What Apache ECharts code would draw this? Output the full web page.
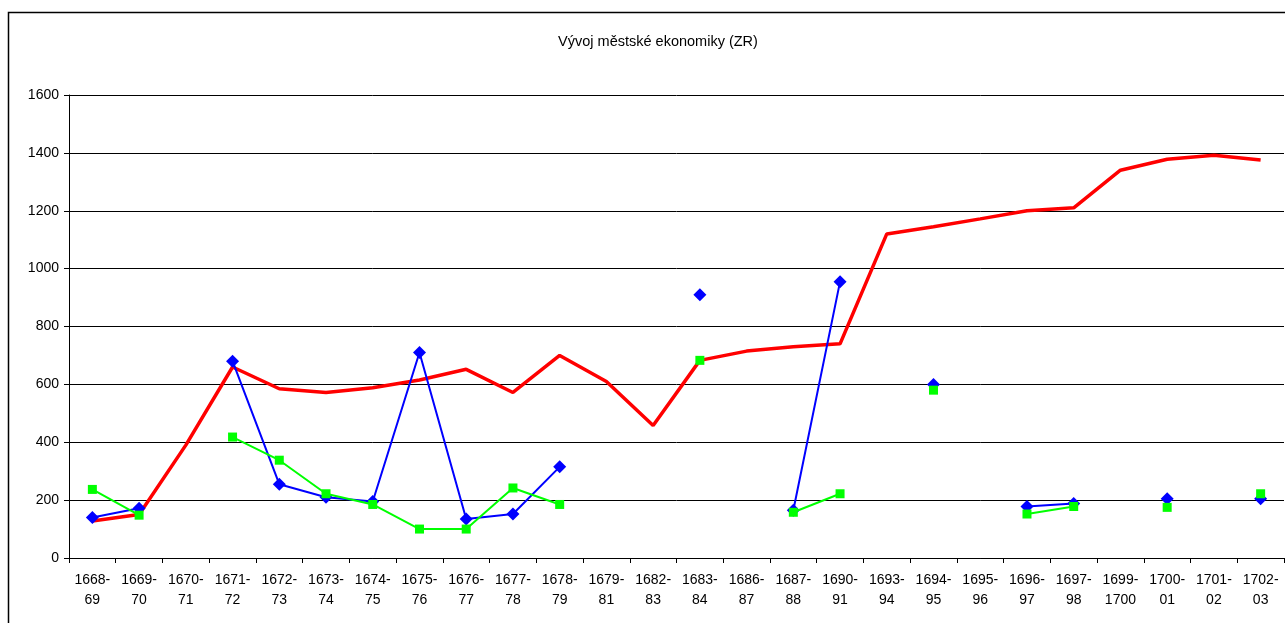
<!DOCTYPE html>
<html>
<head>
<meta charset="utf-8">
<script src="https://cdn.jsdelivr.net/npm/echarts@6/dist/echarts.min.js"></script>
<style>
html,body{margin:0;padding:0;background:#fff;}
#c{width:1285px;height:623px;}
</style>
</head>
<body>
<div id="c"></div>
<script>
const categories = ['1668-69','1669-70','1670-71','1671-72','1672-73','1673-74','1674-75','1675-76','1676-77','1677-78','1678-79','1679-81','1682-83','1683-84','1686-87','1687-88','1690-91','1693-94','1694-95','1695-96','1696-97','1697-98','1699-1700','1700-01','1701-02','1702-03'];
const redValues = [128,150,390,660,585,572,588,615,652,572,700,610,458,683,715,730,740,1120,1145,1172,1200,1210,1340,1378,1392,1375];
const blueValues = [140,172,null,680,255,210,195,710,135,152,315,null,null,910,null,165,955,null,600,null,178,188,null,205,null,205];
const greenValues = [237,148,null,418,338,222,185,100,100,242,185,null,null,683,null,158,222,null,580,null,152,178,null,175,null,222];
const yTicks = {min:0, max:1600, interval:200};
const titleText = 'Vývoj městské ekonomiky (ZR)';

const chart = echarts.init(document.getElementById('c'));
const font = 'Liberation Sans, Arial, sans-serif';
chart.setOption({
  animation:false,
  backgroundColor:'#fff',
  title:{text:titleText,left:653,top:29,textAlign:'center',
    textStyle:{fontFamily:font,fontSize:14.5,fontWeight:'normal',color:'#000'}},
  graphic:[{type:'rect',shape:{x:8.5,y:12.5,width:1290,height:620},style:{fill:null,stroke:'#000',lineWidth:1.5},silent:true}],
  grid:{left:69,right:1,top:95,bottom:65},
  xAxis:{type:'category',data:categories,boundaryGap:true,
    axisLine:{lineStyle:{color:'#000',width:1}},
    axisTick:{show:true,alignWithLabel:false,length:5,lineStyle:{color:'#000'}},
    axisLabel:{interval:0,fontFamily:font,fontSize:14,color:'#000',lineHeight:20,margin:12,
      formatter:v=>{const i=v.indexOf('-');return v.slice(0,i+1)+'\n'+v.slice(i+1);}},
    splitLine:{show:false}},
  yAxis:{type:'value',min:yTicks.min,max:yTicks.max,interval:yTicks.interval,
    axisLine:{show:true,lineStyle:{color:'#000',width:1}},
    axisTick:{show:true,length:5,lineStyle:{color:'#000'}},
    axisLabel:{fontFamily:font,fontSize:14,color:'#000',margin:10,formatter:v=>String(v)},
    splitLine:{show:true,lineStyle:{color:'#000',width:1}}},
  series:[
    {type:'line',name:'red',data:redValues,symbol:'none',connectNulls:false,
      lineStyle:{color:'#ff0000',width:3.5},itemStyle:{color:'#ff0000'},z:2},
    {type:'line',name:'blue',data:blueValues,symbol:'diamond',symbolSize:13,connectNulls:false,
      lineStyle:{color:'#0000ff',width:2},itemStyle:{color:'#0000ff'},z:3},
    {type:'line',name:'green',data:greenValues,symbol:'rect',symbolSize:9,connectNulls:false,
      lineStyle:{color:'#00ff00',width:2},itemStyle:{color:'#00ff00'},z:4}
  ]
});
</script>
</body>
</html>
